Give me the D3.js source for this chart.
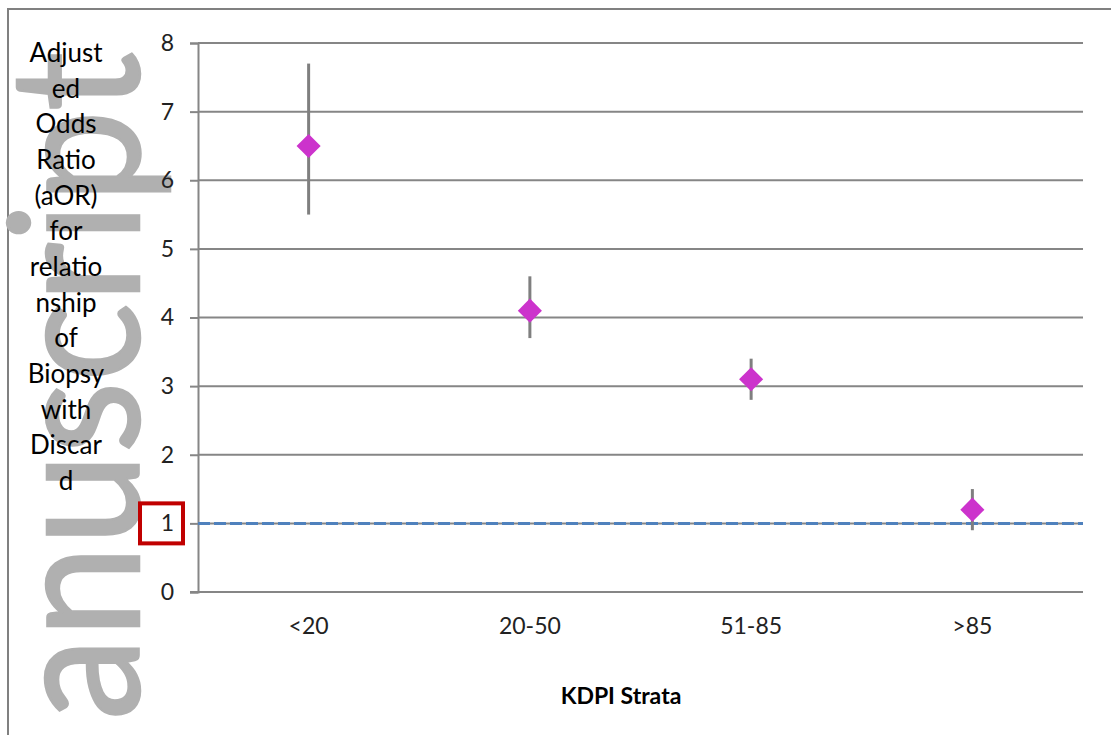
<!DOCTYPE html>
<html>
<head>
<meta charset="utf-8">
<script src="https://cdn.jsdelivr.net/npm/d3@7"></script>
<style>
  body { margin: 0; background: #fff; }
  svg { display: block; }
  text { font-family: Lato, "Open Sans", sans-serif; }
</style>
</head>
<body>
<svg id="chart"></svg>
<script>
// chart values
const categories = ["<20", "20-50", "51-85", ">85"];
const aor = [6.5, 4.1, 3.1, 1.2];
const lower = [5.5, 3.7, 2.8, 0.9];
const upper = [7.7, 4.6, 3.4, 1.5];
const yTicks = [0, 1, 2, 3, 4, 5, 6, 7, 8];
const refValue = 1;
const titleLines = ["Adjust", "ed", "Odds", "Ratio", "(aOR)", "for", "relatio", "nship", "of", "Biopsy", "with", "Discar", "d"];
const xTitle = "KDPI Strata";
const watermark = "anuscript";

let w = 1111,
    h = 735,
    plotLeft = 198,
    plotRight = 1083,
    plotTop = 43,
    plotBottom = 592;

let svg = d3.select("#chart")
    .attr("width", w)
    .attr("height", h);

let x = d3.scaleBand().domain(categories).range([plotLeft, plotRight]);
let y = d3.scaleLinear().domain([0, 8]).range([plotBottom, plotTop]);

// outer frame (top and left edges visible)
svg.append("path")
    .attr("d", "M8," + h + "V9H" + w)
    .attr("fill", "none")
    .attr("stroke", "#808080")
    .attr("stroke-width", 2);

// watermark
svg.append("text")
    .attr("transform", "translate(139,720) rotate(-90)")
    .attr("font-size", 180)
    .attr("fill", "#b0b0b0")
    .attr("stroke", "#b0b0b0")
    .attr("stroke-width", 2.5)
    .attr("textLength", 668)
    .attr("lengthAdjust", "spacingAndGlyphs")
    .text(watermark);

// gridlines
svg.append("g")
    .selectAll("line")
    .data(yTicks.filter(d => d > 0))
    .enter().append("line")
    .attr("x1", plotLeft)
    .attr("x2", plotRight)
    .attr("y1", d => y(d))
    .attr("y2", d => y(d))
    .attr("stroke", "#868686")
    .attr("stroke-width", 2);

// y axis
let yAxis = svg.append("g")
    .attr("transform", "translate(" + plotLeft + ",0)")
    .call(d3.axisLeft(y).tickValues(yTicks).tickSize(8).tickPadding(16).tickFormat(d3.format("d")));
yAxis.select(".domain").attr("stroke", "#868686").attr("stroke-width", 2);
yAxis.selectAll(".tick line").attr("stroke", "#868686").attr("stroke-width", 2);
yAxis.selectAll(".tick text")
    .attr("font-family", "Lato, sans-serif")
    .attr("font-size", 23)
    .attr("fill", "#222");

// x axis (baseline + labels)
let xAxis = svg.append("g")
    .attr("transform", "translate(0," + plotBottom + ")")
    .call(d3.axisBottom(x).tickSize(0).tickPadding(26));
xAxis.select(".domain").remove();
xAxis.selectAll(".tick text")
    .attr("font-family", "Lato, sans-serif")
    .attr("font-size", 23)
    .attr("fill", "#222");
svg.append("line")
    .attr("x1", plotLeft - 8)
    .attr("x2", plotRight)
    .attr("y1", y(0))
    .attr("y2", y(0))
    .attr("stroke", "#868686")
    .attr("stroke-width", 2);

// reference line at aOR = 1
svg.append("line")
    .attr("x1", plotLeft)
    .attr("x2", plotRight)
    .attr("y1", y(refValue))
    .attr("y2", y(refValue))
    .attr("stroke", "#4f81bd")
    .attr("stroke-width", 3)
    .attr("stroke-dasharray", "12,4");

// red box around the "1" tick label
svg.append("rect")
    .attr("x", 140)
    .attr("y", y(refValue) - 20)
    .attr("width", 43)
    .attr("height", 40)
    .attr("fill", "none")
    .attr("stroke", "#c00000")
    .attr("stroke-width", 4);

// error bars
let data = categories.map((c, i) => ({cat: c, v: aor[i], lo: lower[i], hi: upper[i]}));
svg.append("g")
    .selectAll("line")
    .data(data)
    .enter().append("line")
    .attr("x1", d => x(d.cat) + x.bandwidth() / 2)
    .attr("x2", d => x(d.cat) + x.bandwidth() / 2)
    .attr("y1", d => y(d.lo))
    .attr("y2", d => y(d.hi))
    .attr("stroke", "#7f7f7f")
    .attr("stroke-width", 3);

// diamonds
svg.append("g")
    .selectAll("path")
    .data(data)
    .enter().append("path")
    .attr("d", d3.symbol().type(d3.symbolSquare).size(290))
    .attr("transform", d => "translate(" + (x(d.cat) + x.bandwidth() / 2) + "," + y(d.v) + ") rotate(45)")
    .attr("fill", "#cc33cc");

// y title, wrapped like the original
svg.append("text")
    .attr("text-anchor", "middle")
    .attr("font-size", 26)
    .attr("fill", "#000")
    .selectAll("tspan")
    .data(titleLines)
    .enter().append("tspan")
    .attr("x", 66)
    .attr("y", (d, i) => 62 + i * 35.67)
    .text(d => d);

// x title
svg.append("text")
    .attr("x", 621)
    .attr("y", 704)
    .attr("text-anchor", "middle")
    .attr("font-size", 23)
    .attr("font-weight", "bold")
    .attr("fill", "#000")
    .text(xTitle);
</script>
</body>
</html>
